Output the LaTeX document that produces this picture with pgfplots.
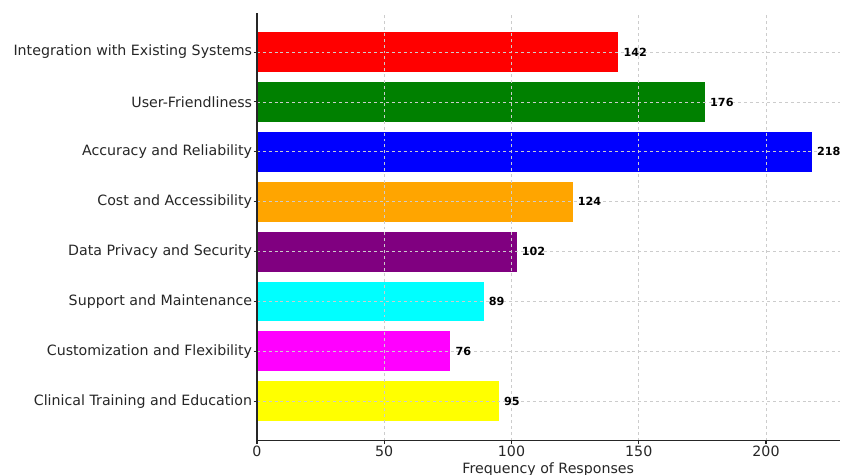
\documentclass[border=0pt]{standalone}
\usepackage{fontspec}
\setmainfont{DejaVu Sans}
\usepackage{pgfplots}
\pgfplotsset{compat=1.18}
\usetikzlibrary{calc}

\definecolor{cRed}{HTML}{FF0000}
\definecolor{cGreen}{HTML}{008000}
\definecolor{cBlue}{HTML}{0000FF}
\definecolor{cOrange}{HTML}{FFA500}
\definecolor{cPurple}{HTML}{800080}
\definecolor{cCyan}{HTML}{00FFFF}
\definecolor{cMagenta}{HTML}{FF00FF}
\definecolor{cYellow}{HTML}{FFFF00}
\definecolor{spine}{HTML}{262626}

\begin{document}
\begin{tikzpicture}
\begin{axis}[
    name=ax,
    at={(0,0)}, anchor=south west,
    width=436.9pt, height=321pt,
    scale only axis,
    xbar, bar shift=0pt, bar width=0.8,
    xmin=0, xmax=228.9,
    ymin=-0.79, ymax=7.79,
    xtick={0,50,100,150,200},
    ytick={0,1,2,3,4,5,6,7},
    yticklabels={Clinical Training and Education, Customization and Flexibility,
        Support and Maintenance, Data Privacy and Security, Cost and Accessibility,
        Accuracy and Reliability, User-Friendliness, Integration with Existing Systems},
    axis x line*=bottom, axis y line*=left,
    axis line style={spine, line width=0.8pt},
    tick align=outside, tick style={spine, line width=0.8pt},
    major tick length=2.5pt,
    axis on top,
    grid=major,
    major grid style={black!20, line width=0.55pt, dash pattern=on 2.2pt off 2.2pt},
    /pgf/number format/assume math mode=true,
    ticklabel style={font=\fontsize{10.65}{12}\selectfont, text=black!85, inner sep=0pt},
    xticklabel style={anchor=north, yshift=-1pt},
    yticklabel style={anchor=east, xshift=-1pt},
    xlabel={Frequency of Responses},
    xlabel style={font=\fontsize{10.65}{12}\selectfont, text=black!85, inner sep=0pt,
        at={(axis description cs:0.5,0)}, anchor=north, yshift=-16.7pt},
    nodes near coords,
    nodes near coords style={anchor=west, inner sep=0pt, xshift=3.75pt,
        font=\fontsize{8.4}{10}\selectfont\bfseries, text=black},
    every axis plot/.append style={draw=none},
]
\addplot[fill=cRed]     coordinates {(142,7)};
\addplot[fill=cGreen]   coordinates {(176,6)};
\addplot[fill=cBlue]    coordinates {(218,5)};
\addplot[fill=cOrange]  coordinates {(124,4)};
\addplot[fill=cPurple]  coordinates {(102,3)};
\addplot[fill=cCyan]    coordinates {(89,2)};
\addplot[fill=cMagenta] coordinates {(76,1)};
\addplot[fill=cYellow]  coordinates {(95,0)};
\end{axis}
% crop like the reference: the x label runs off the bottom edge
\pgfresetboundingbox
\path[use as bounding box] ($(ax.south west)+(-192.75pt,-25.7pt)$) rectangle ($(ax.south west)+(438pt,330.5pt)$);
\end{tikzpicture}
\end{document}
